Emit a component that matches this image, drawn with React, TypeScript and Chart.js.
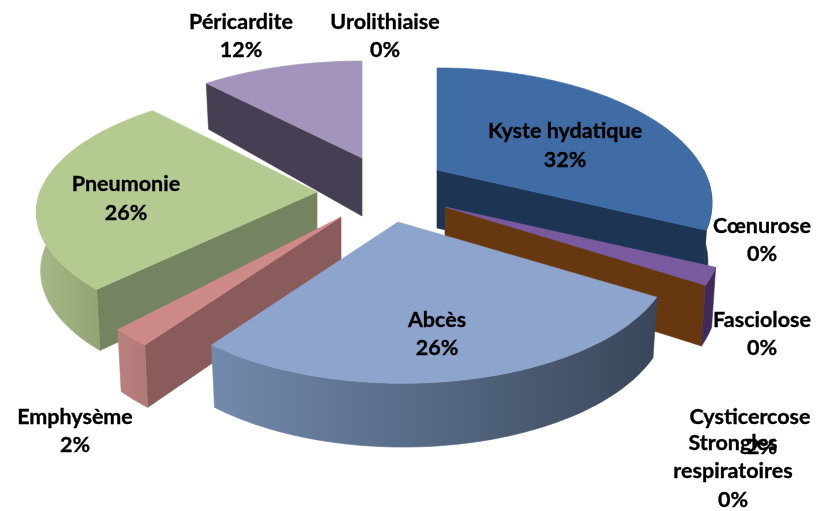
import React, { useEffect, useRef } from "react";
import { Chart, registerables } from "chart.js";

Chart.register(...registerables);

const categories = ["Kyste hydatique", "Cœnurose", "Fasciolose", "Cysticercose", "Strongles respiratoires", "Abcès", "Emphysème", "Pneumonie", "Péricardite", "Urolithiaise"];
const shares = [32, 0, 0, 2, 0, 26, 2, 26, 12, 0];

// style / layout tables, indexed like the categories
const topColors = ["#3f6ca4", "", "", "#7a5a9e", "", "#8da4cd", "#cd8a88", "#b5ca90", "#a394bb", ""];
const sideColors = ["#1c3555", "", "", "#67380f", "", "#3a4658", "#8a5b5b", "#748360", "#463f53", ""];
const rimFrom = ["#1c3555", "", "", "#3f2a58", "", "#728aac", "#b9807e", "#a8b988", "#463f53", ""];
const rimTo = ["#1c3555", "", "", "#3f2a58", "", "#39465a", "#b07a78", "#94a474", "#463f53", ""];
const apexX = [437, 0, 0, 445, 0, 398, 341, 317, 362, 0];
const apexY = [170, 0, 0, 207, 0, 222, 217, 192, 158, 0];
const rimShiftX = [0, 0, 0, 0, 0, 5, 0, 0, 0, 0];
const rimShiftY = [0, 0, 0, 0, 0, 0, 0, -5, 0, 0];
const widthScale = [0.995, 1, 1, 1, 1, 0.975, 1, 1.026, 1, 1];
const heightScale = [1, 1, 1, 1, 1, 0.96, 1, 0.945, 0.95, 1];
const perspective = [0.244, 0, 0, 0.244, 0, 0.244, 0.244, 0.2, 0.244, 0];
const paintOrder = [8, 0, 3, 7, 6, 5];

const labelLines = [
  ["Kyste hydatique"], ["Cœnurose"], ["Fasciolose"], ["Cysticercose"], ["Strongles", "respiratoires"],
  ["Abcès"], ["Emphysème"], ["Pneumonie"], ["Péricardite"], ["Urolithiaise"],
];
const labelX = [565, 762, 762, 750, 733, 437, 75, 126, 241, 385];
const labelY = [131, 226, 320, 417, 443, 320, 417, 184, 22, 22];
const percentX = [565, 762, 762, 762, 733, 437, 75, 126, 241, 385];
const percentY = [160, 254, 348, 447, 500, 348, 445, 213, 50, 50];

const FLAT = 127 / 268;
const DEPTH = 58;

const facePlugin = {
  id: "perspectiveFaces",
  beforeDatasetsDraw(chart: any) {
    const ctx = chart.ctx;
    const arcs = chart.getDatasetMeta(0).data;
    paintOrder.forEach((i) => {
      const el = arcs[i];
      const { startAngle, endAngle, outerRadius } = el.getProps(["startAngle", "endAngle", "outerRadius"], true);
      const a0 = startAngle + Math.PI / 2;
      const a1 = endAngle + Math.PI / 2;
      const R = outerRadius * 1.049;
      const project = (a: number, r: number, low: boolean) => {
        const u = Math.sin(a) * r;
        const v = -Math.cos(a) * r;
        const g = 1 / (1 - perspective[i] * v);
        const drop = low ? DEPTH + (g - 1) * (g > 1 ? 18 : 80) : 0;
        const shrink = low ? 0.985 : 1;
        return [
          apexX[i] + r * rimShiftX[i] + R * widthScale[i] * u * g * shrink,
          apexY[i] + r * rimShiftY[i] + R * FLAT * heightScale[i] * v * g + drop,
        ];
      };
      const poly = (pts: number[][], fill: any) => {
        ctx.beginPath();
        pts.forEach((p, n) => (n ? ctx.lineTo(p[0], p[1]) : ctx.moveTo(p[0], p[1])));
        ctx.closePath();
        ctx.fillStyle = fill;
        ctx.fill();
        ctx.strokeStyle = fill;
        ctx.lineWidth = 0.6;
        ctx.stroke();
      };
      const radial = (a: number) =>
        poly([project(a, 0, false), project(a, 1, false), project(a, 1, true), project(a, 0, true)], sideColors[i]);
      if (Math.sin(a0) < -1e-6) radial(a0);
      if (Math.sin(a1) > 1e-6) radial(a1);

      const from = Math.max(a0, Math.PI / 2);
      const to = Math.min(a1, (3 * Math.PI) / 2);
      if (to > from) {
        const steps = 60;
        const upper: number[][] = [];
        const lower: number[][] = [];
        for (let s = 0; s <= steps; s++) {
          const a = from + ((to - from) * s) / steps;
          upper.push(project(a, 1, false));
          lower.unshift(project(a, 1, true));
        }
        const xs = upper.map((p) => p[0]);
        const grad = ctx.createLinearGradient(Math.min(...xs), 0, Math.max(...xs), 0);
        grad.addColorStop(0, rimFrom[i]);
        grad.addColorStop(1, rimTo[i]);
        poly(upper.concat(lower), grad);
      }

      const topFace: number[][] = [project(a0, 0, false)];
      for (let s = 0; s <= 80; s++) topFace.push(project(a0 + ((a1 - a0) * s) / 80, 1, false));
      poly(topFace, topColors[i]);
    });

    ctx.save();
    ctx.filter = "blur(0.45px)";
    ctx.fillStyle = "#000";
    ctx.strokeStyle = "#000";
    ctx.lineWidth = 0.35;
    ctx.font = "bold 21.5px Lato, 'Open Sans', sans-serif";
    ctx.textAlign = "center";
    ctx.textBaseline = "middle";
    const put = (s: string, x: number, y: number) => {
      ctx.fillText(s, x, y);
      ctx.strokeText(s, x, y);
    };
    categories.forEach((_, i) => {
      labelLines[i].forEach((line, n) => put(line, labelX[i], labelY[i] + n * 28));
      put(`${shares[i]}%`, percentX[i], percentY[i]);
    });
    ctx.restore();
    return false;
  },
};

export default function App() {
  const ref = useRef<HTMLCanvasElement>(null);
  useEffect(() => {
    const chart = new Chart(ref.current as HTMLCanvasElement, {
      type: "pie",
      data: { labels: categories, datasets: [{ data: shares, borderWidth: 0 }] },
      options: {
        animation: false,
        responsive: false,
        layout: { padding: 0 },
        plugins: { legend: { display: false }, tooltip: { enabled: false } },
      },
      plugins: [facePlugin],
    } as any);
    return () => chart.destroy();
  }, []);
  return (
    <div style={{ position: "fixed", left: 0, top: 0, width: 816, height: 511, background: "#fff" }}>
      <canvas ref={ref} width={816} height={511} style={{ display: "block" }} />
    </div>
  );
}
